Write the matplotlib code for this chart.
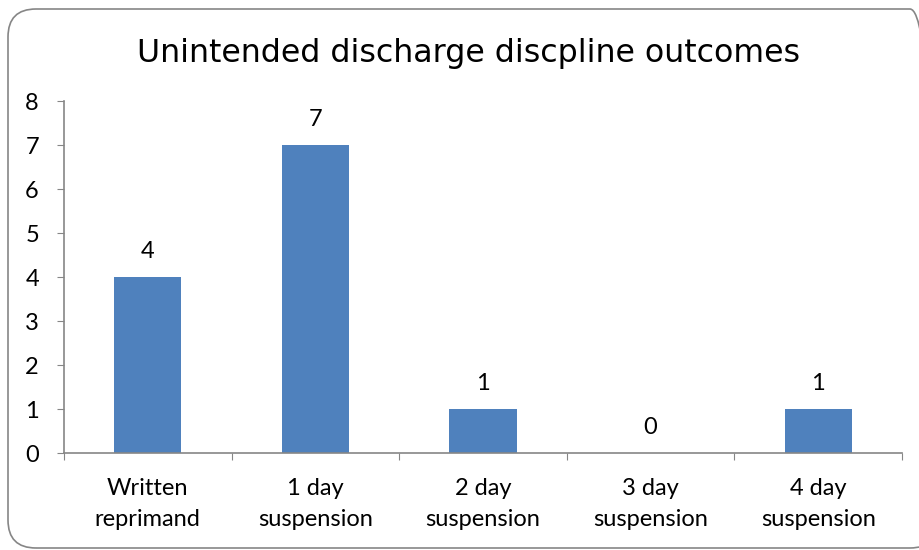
import matplotlib.pyplot as plt
from matplotlib.patches import FancyBboxPatch
import numpy as np

plt.rcParams['font.family'] = ['Lato', 'DejaVu Sans']

categories = ["Written\nreprimand", "1 day\nsuspension", "2 day\nsuspension",
              "3 day\nsuspension", "4 day\nsuspension"]
counts = [4, 7, 1, 0, 1]
title = "Unintended discharge discpline outcomes"

fig = plt.figure(figsize=(9.2, 5.5), dpi=100)

# rounded chart border in inches (runs off the right edge like the original crop)
border = FancyBboxPatch((0.08, 0.02), 9.3, 5.39,
                        boxstyle="round,pad=0,rounding_size=0.28",
                        transform=fig.dpi_scale_trans, facecolor="none",
                        edgecolor="#868686", linewidth=1.2, zorder=5)
fig.patches.append(border)

ax = fig.add_axes([64 / 920, 97 / 550, 838 / 920, 352 / 550])
x = np.arange(len(categories))
ax.bar(x, counts, width=0.4, color="#4F81BD")

for xi, v in zip(x, counts):
    ax.text(xi, v + 0.43, str(v), ha="center", va="baseline", fontsize=17)

ax.set_xlim(-0.5, len(categories) - 0.5)
ax.set_ylim(0, 8)
ax.set_yticks(range(0, 9))
ax.set_xticks(np.arange(-0.5, len(categories)), labels=[""] * (len(categories) + 1))
ax.set_xticks(x, labels=categories, minor=True)
ax.tick_params(axis="x", which="minor", length=0, labelsize=17, pad=18)
ax.tick_params(axis="x", which="major", length=5, color="#868686")
ax.tick_params(axis="y", length=5, color="#868686", labelsize=17, pad=13)
for lbl in ax.get_xticklabels(minor=True):
    lbl.set_linespacing(1.6)

for s in ["top", "right"]:
    ax.spines[s].set_visible(False)
for s in ["left", "bottom"]:
    ax.spines[s].set_color("#868686")
    ax.spines[s].set_linewidth(1.2)

fig.text(469 / 920, 1 - 62 / 550, title, ha="center", va="baseline",
         fontsize=22.8, family="DejaVu Sans")

fig.savefig("out.png", dpi=100)
